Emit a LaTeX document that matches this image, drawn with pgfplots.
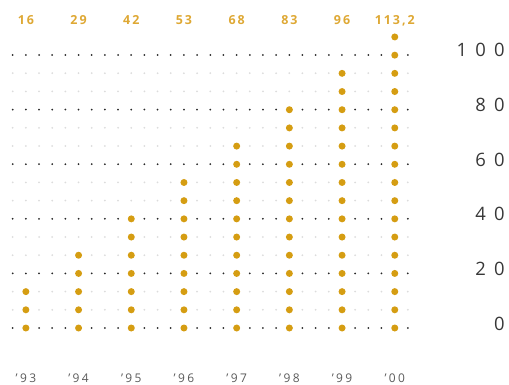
\documentclass[border=0pt]{standalone}
\usepackage{fontspec}
\setmainfont{Open Sans}
\newfontfamily\valfont[LetterSpace=16]{Open Sans}
\newfontfamily\axfont[LetterSpace=45]{Open Sans}
\newfontfamily\yrfont[LetterSpace=20]{Open Sans}
\usepackage{pgfplots}
\usepackage{pgfplotstable}
\pgfplotsset{compat=1.18}

\definecolor{dotgold}{RGB}{213,157,18}
\definecolor{lblgold}{RGB}{222,168,52}
\definecolor{griddark}{RGB}{40,40,40}
\definecolor{gridlight}{RGB}{220,220,220}
\definecolor{ylab}{RGB}{55,55,55}
\definecolor{xlab}{RGB}{90,90,90}

% one column of dots per year: x index and height of the top dot
% (one dot for every 20/3 units, starting at 0)
\pgfplotstableread{
x  top
0  13.3333
1  26.6667
2  40
3  53.3333
4  66.6667
5  80
6  93.3333
7  106.6667
}\dotcols

\begin{document}
\begin{tikzpicture}
\pgfplotsset{
  base/.style={
    scale only axis, width=395.25bp, height=273bp,
    xmin=-0.25, xmax=7.25, ymin=0, ymax=100, clip=false,
    axis line style={draw=none}, tick style={draw=none},
    minor tick style={draw=none},
  },
  dotgrid/.style={line width=2bp, line cap=round, dash pattern=on 0pt off 13.17bp},
}
\begin{axis}[base,
  ytick={0,20,...,100}, minor y tick num=2,
  ymajorgrids, yminorgrids,
  major grid style={dotgrid, draw=griddark},
  minor grid style={dotgrid, draw=gridlight},
  yticklabel pos=right,
  yticklabels={0,20,40,60,80,100},
  yticklabel style={anchor=base east, inner sep=0pt, xshift=97bp, yshift=-2bp,
    font=\axfont\fontsize{18.5}{20}\selectfont, text=ylab},
  xtick={0,...,7},
  xticklabels={’93,’94,’95,’96,’97,’98,’99,’00},
  xticklabel style={anchor=base, inner sep=0pt, yshift=-54bp,
    font=\yrfont\fontsize{12}{13}\selectfont, text=xlab},
]
\addplot[ycomb, draw=dotgold, line width=7bp, line cap=round,
  dash pattern=on 0pt off 18.19bp, mark=none] table[x=x, y=top] {\dotcols};
\path (rel axis cs:0,0) ++(-12.7bp,-57bp) rectangle ++(509bp,385bp);
\end{axis}
% value of each year above its column
\begin{axis}[base, ytick=\empty,
  xtick={0,...,7}, xticklabel pos=upper,
  xticklabels={16,29,42,53,68,83,96,{113,2}},
  xticklabel style={anchor=base, inner sep=0pt, yshift=30.5bp,
    font=\valfont\bfseries\fontsize{12.5}{13}\selectfont, text=lblgold},
]
\end{axis}
\end{tikzpicture}
\end{document}
